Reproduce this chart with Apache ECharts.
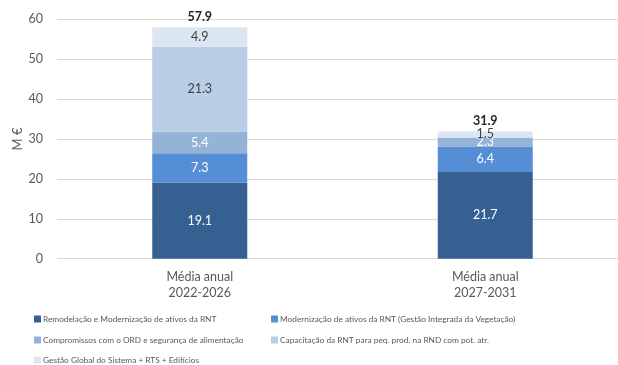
<!DOCTYPE html>
<html>
<head>
<meta charset="utf-8">
<script src="https://cdn.jsdelivr.net/npm/echarts@6/dist/echarts.min.js"></script>
<style>
  html, body { margin: 0; padding: 0; background: #fff; }
  #chart { width: 618px; height: 365px; }
</style>
</head>
<body>
<div id="chart"></div>
<script>
// Investment per period (M €), stacked by component
const categories = ['Média anual\n2022-2026', 'Média anual\n2027-2031'];
const seriesNames = [
  'Remodelação e Modernização de ativos da RNT',
  'Modernização de ativos da RNT (Gestão Integrada da Vegetação)',
  'Compromissos com o ORD e segurança de alimentação',
  'Capacitação da RNT para peq. prod. na RND com pot. atr.',
  'Gestão Global do Sistema + RTS + Edifícios'
];
const remodelacao = [19.1, 21.7];
const vegetacao = [7.3, 6.4];
const compromissos = [5.4, 2.3];
const capacitacao = [21.3, 0];
const gestaoGlobal = [4.9, 1.5];
const totals = [57.9, 31.9];
const yTicks = [0, 10, 20, 30, 40, 50, 60];
const yAxisTitle = 'M €';

const seriesValues = [remodelacao, vegetacao, compromissos, capacitacao, gestaoGlobal];
const colors = ['#366092', '#558ed5', '#95b3d7', '#b9cde5', '#dce6f2'];
const labelColors = ['#ffffff', '#ffffff', '#ffffff', '#404040', '#404040'];
const FONT = 'Lato';

const stacked = seriesNames.map((name, i) => ({
  name: name,
  type: 'bar',
  stack: 'total',
  barWidth: 95,
  data: seriesValues[i],
  itemStyle: { color: colors[i] },
  label: {
    show: true,
    position: 'inside',
    fontFamily: FONT,
    fontSize: 12.5,
    color: labelColors[i],
    formatter: p => (p.value ? p.value.toFixed(1) : '')
  }
}));

// Totals written above each stack
stacked.push({
  name: 'Total',
  type: 'bar',
  barWidth: 95,
  barGap: '-100%',
  data: totals,
  itemStyle: { color: 'rgba(0,0,0,0)' },
  z: 0,
  silent: true,
  label: {
    show: true,
    position: 'top',
    distance: 4,
    fontFamily: FONT,
    fontSize: 12.5,
    fontWeight: 'bold',
    color: '#262626',
    formatter: p => p.value.toFixed(1)
  }
});

// Legend laid out in two columns, one component per entry
const legendSlots = [
  { left: 34, top: 315 }, { left: 271, top: 315 },
  { left: 34, top: 336 }, { left: 271, top: 336 },
  { left: 34, top: 356 }
];
const legends = seriesNames.map((name, i) => ({
  data: [name],
  left: legendSlots[i].left,
  top: legendSlots[i].top,
  padding: 0,
  itemWidth: 7,
  itemHeight: 7,
  icon: 'rect',
  selectedMode: false,
  textStyle: { fontFamily: FONT, fontSize: 8.3, color: '#595959', padding: [0, 0, 0, -3] }
}));

const chart = echarts.init(document.getElementById('chart'), null, { renderer: 'canvas' });
chart.setOption({
  animation: false,
  color: colors,
  grid: { left: 57, width: 571, top: 19.3, bottom: 106.3, containLabel: false, outerBoundsMode: 'none' },
  xAxis: {
    type: 'category',
    data: categories,
    axisLine: { show: false },
    axisTick: { show: false },
    axisLabel: {
      fontFamily: FONT, fontSize: 12.5, color: '#595959',
      lineHeight: 16, margin: 10
    }
  },
  yAxis: {
    type: 'value',
    min: yTicks[0],
    max: yTicks[yTicks.length - 1],
    interval: 10,
    axisLine: { show: false },
    axisTick: { show: false },
    axisLabel: { fontFamily: FONT, fontSize: 12.5, color: '#595959', margin: 14 },
    splitLine: { lineStyle: { color: '#d9d9d9', width: 1 } }
  },
  // Vertical axis title
  graphic: [{
    type: 'text',
    x: 18,
    y: 139,
    rotation: Math.PI / 2,
    style: {
      text: yAxisTitle,
      fontFamily: FONT,
      fontSize: 13,
      fill: '#595959',
      align: 'center',
      verticalAlign: 'middle'
    }
  }],
  legend: legends,
  series: stacked
});
</script>
</body>
</html>
